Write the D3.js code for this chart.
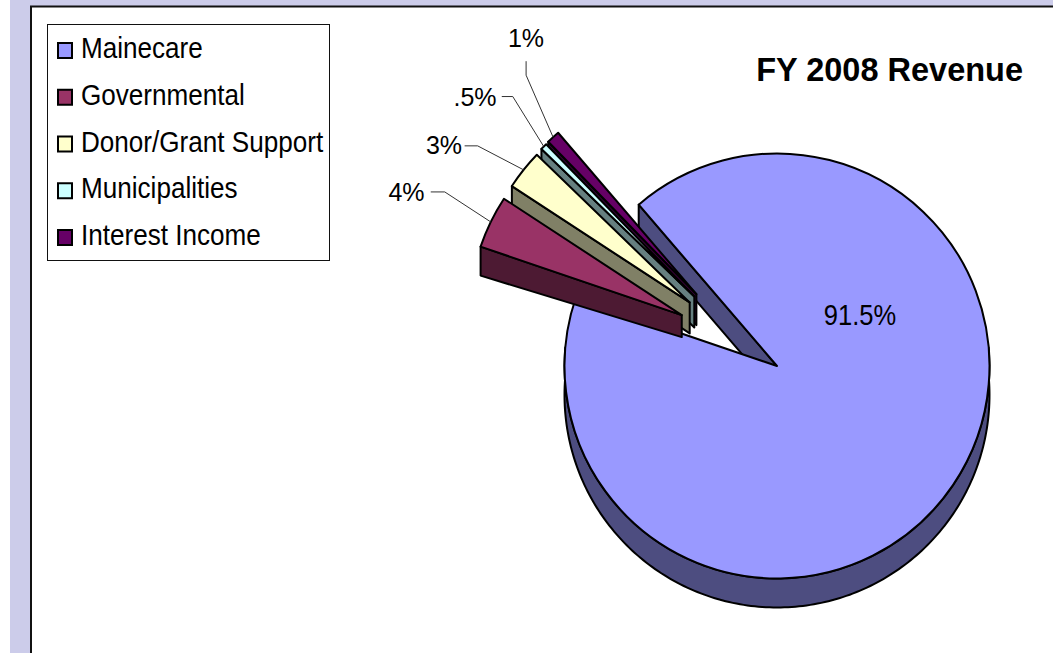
<!DOCTYPE html>
<html>
<head>
<meta charset="utf-8">
<script src="https://cdn.jsdelivr.net/npm/d3@7"></script>
<style>
html,body{margin:0;padding:0;background:#fff;overflow:hidden}
text{font-family:"Liberation Sans",Arial,sans-serif;fill:#000}
</style>
</head>
<body>
<script>
// FY 2008 revenue shares
var categories = ["Mainecare","Governmental","Donor/Grant Support","Municipalities","Interest Income"]
var values = [91.5,4,3,.5,1]
var labels = ["91.5%","4%","3%",".5%","1%"]
var colors = ["#9999ff","#993366","#ffffcc","#ccffff","#660066"]
var sideColors = ["#4d4d80","#4d1a33","#808066","#668080","#330033"]

var width = 1053
var height = 653

var svg = d3.select("body").append("svg").attr("width",width).attr("height",height)
	.style("display","block")

// page frame
svg.append("rect").attr("x",10).attr("y",0).attr("width",width-10).attr("height",height).attr("fill","#ccccea")
svg.append("rect").attr("x",31).attr("y",7).attr("width",width-31).attr("height",height-7).attr("fill","#fff")
svg.append("path").attr("d","M31,"+height+"V6.5H"+width).attr("fill","none").attr("stroke","#111").attr("stroke-width",2)

// pie geometry
var cx = 777, cy = 366, radius = 212.5, depth = 29, explode = 108
var rad = Math.PI/180
var startDeg = -40.6

var pie = d3.pie().sort(null).value(function(d){return d})
	.startAngle(startDeg*rad).endAngle((startDeg+360)*rad)
var arcs = pie(values)
var arc = d3.arc().innerRadius(0).outerRadius(radius)

// exploded slices fan out a bit narrower than their mid angles
var explodeDir = d3.scaleLinear().domain([-64.2,-42.6]).range([-62,-48.4])

function norm(a){ return a > Math.PI ? a-2*Math.PI : a }
function pt(a,r){ return [r*Math.sin(a),-r*Math.cos(a)] }

arcs.forEach(function(d,i){
	if(i==0){ d.ox = 0; d.oy = 0; return }
	var dir = explodeDir(norm((d.startAngle+d.endAngle)/2)/rad)*rad
	var p = pt(dir,explode)
	d.ox = p[0]; d.oy = p[1]
})

var apexDepth = [depth,22,31,31,31]
var line = d3.line()

function wall(d,i){
	var p = pt(d.startAngle,radius)
	return line([[0,0],p,[p[0],p[1]+depth],[0,apexDepth[i]]])+"Z"
}

var chart = svg.append("g").attr("transform","translate("+cx+","+cy+")")
	.attr("stroke","#000").attr("stroke-width",2).attr("stroke-linejoin","round")

// main slice: rim and cut wall, then top
var rimAngles = d3.range(85,276,1).map(function(a){return a*rad})
var rimTop = rimAngles.map(function(a){return pt(a,radius)})
var rimBottom = rimTop.map(function(p){return [p[0],p[1]+depth]}).reverse()

chart.append("path").attr("d",line(rimTop.concat(rimBottom))+"Z").attr("fill",sideColors[0])
chart.append("path").attr("d",wall(arcs[0],0)).attr("fill",sideColors[0])
chart.append("path").attr("d",arc(arcs[0])).attr("fill",colors[0])

// small slices, from the back to the front
var order = [4,3,2,1]
order.forEach(function(i){
	var d = arcs[i]
	var g = chart.append("g").attr("transform","translate("+d.ox+","+d.oy+")")
	g.append("path").attr("d",wall(d,i)).attr("fill",sideColors[i])
	g.append("path").attr("d",arc(d)).attr("fill",colors[i])
})

// data labels with leader lines
var leaderOffsets = [null,[[-46,-30],[-60,-30]],[[-46,-24],[-59,-24]],[[-31,-50],[-42,-50]],[[-27,-62],[-27,-76]]]
var labelPos = [[860,315],[406.5,192],[444,145],[475,97],[526,38]]

arcs.forEach(function(d,i){
	if(i>0){
		var mid = (d.startAngle+d.endAngle)/2
		var e = pt(mid,radius)
		var x = cx+d.ox+e[0], y = cy+d.oy+e[1]
		var pts = [[x,y]].concat(leaderOffsets[i].map(function(o){return [x+o[0],y+o[1]]}))
		svg.append("path").attr("d",line(pts)).attr("fill","none").attr("stroke","#333").attr("stroke-width",1)
	}
	// the big label is taller and narrower in the original
	var sx = i==0 ? .88 : 1
	svg.append("text").attr("transform","translate("+labelPos[i][0]+","+labelPos[i][1]+") scale("+sx+",1)")
		.attr("text-anchor","middle").attr("dominant-baseline","central")
		.style("font-size",i==0 ? "29px" : "25px").text(labels[i])
})

// title
svg.append("text").attr("x",1023).attr("y",70).attr("text-anchor","end").attr("dominant-baseline","central")
	.style("font-size","32.5px").style("font-weight","bold").text("FY 2008 Revenue")

// legend
var legendY = d3.scalePoint().domain(categories).range([49,236])
svg.append("rect").attr("x",47.5).attr("y",24.5).attr("width",282).attr("height",236)
	.attr("fill","#fff").attr("stroke","#111").attr("stroke-width",1)
var legend = svg.selectAll(".legend").data(categories).enter().append("g").attr("class","legend")
legend.append("rect").attr("x",58).attr("y",function(d){return legendY(d)-6})
	.attr("width",14).attr("height",15)
	.attr("fill",function(d,i){return colors[i]}).attr("stroke","#000").attr("stroke-width",2)
legend.append("text").attr("transform",function(d){return "translate(81,"+(legendY(d)+9)+") scale(.9,1)"})
	.style("font-size","29px").text(function(d){return d})
</script>
</body>
</html>
